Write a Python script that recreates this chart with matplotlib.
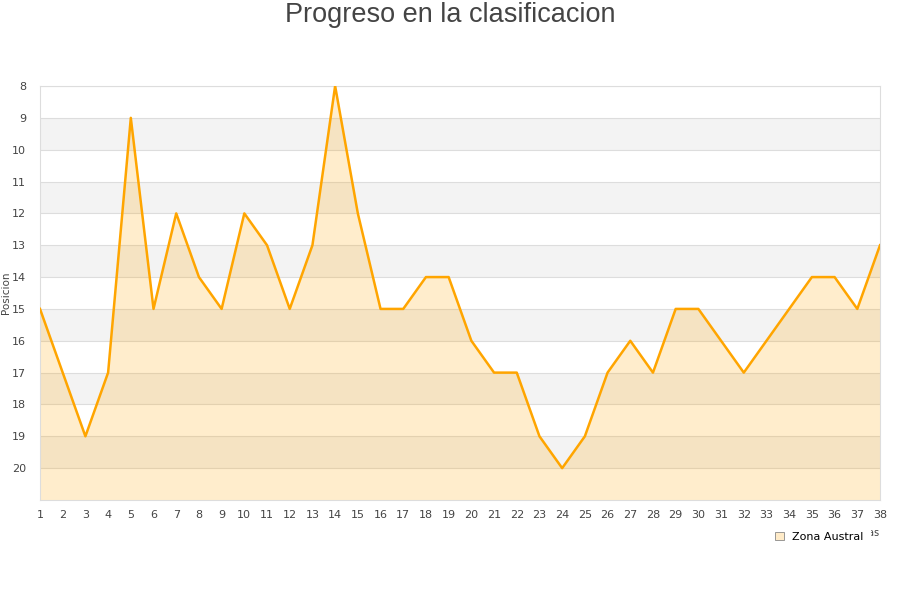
import numpy as np
import matplotlib.pyplot as plt
from matplotlib.patches import Patch

jornadas = list(range(1, 39))
posicion = [15, 17, 19, 17, 9, 15, 12, 14, 15, 12, 13, 15, 13, 8, 12, 15, 15, 14, 14, 16,
            17, 17, 19, 20, 19, 17, 16, 17, 15, 15, 16, 17, 16, 15, 14, 14, 15, 13]
equipo = 'Zona Austral'
yticks = list(range(8, 21))

fig = plt.figure(figsize=(9, 6), dpi=100)
ax = fig.add_axes([40/900, 1-500/600, 840/900, 414/600])

# bandas grises alternas
for y0 in range(9, 21, 2):
    ax.axhspan(y0, y0+1, color='#f3f3f3', zorder=0, lw=0)
for y in yticks:
    ax.axhline(y, color='#dddddd', lw=0.8, zorder=1)

ax.fill_between(jornadas, posicion, 21, color='#ffa500', alpha=0.2, lw=0, zorder=2)
ax.plot(jornadas, posicion, color='#ffa500', lw=1.8, zorder=3)

ax.set_xlim(1, 38)
ax.set_ylim(21, 8)
ax.set_xticks(jornadas)
ax.set_yticks(yticks)
ax.tick_params(axis='y', length=0, labelsize=8, colors='#444444', pad=10)
ax.tick_params(axis='x', length=0, labelsize=8, colors='#444444', pad=7)
for s in ax.spines.values():
    s.set_color('#dddddd')
ax.set_ylabel('Posicion', fontsize=7.5, color='#444444', labelpad=1)

fig.text(0.5, 1-15/600, 'Progreso en la clasificacion', ha='center', va='center',
         fontsize=19.5, color='#444444', family='Liberation Sans')

# etiqueta del eje x, casi tapada por la leyenda como en el original
fig.text(880/900, 1-533/600, 'Jornadas', ha='right', va='center', fontsize=7, color='#444444')
leg = fig.legend(handles=[Patch(facecolor='#ffebc8', edgecolor='#888888', lw=0.6, label=equipo)],
                 loc='center right', bbox_to_anchor=(876/900, 1-537/600), fontsize=8,
                 frameon=True, handlelength=0.8, handleheight=0.8, borderpad=0.6)
leg.get_frame().set_edgecolor('white')
leg.get_frame().set_facecolor('white')
leg.get_frame().set_alpha(1)
leg.set_zorder(10)

fig.savefig('out.png', dpi=100)
